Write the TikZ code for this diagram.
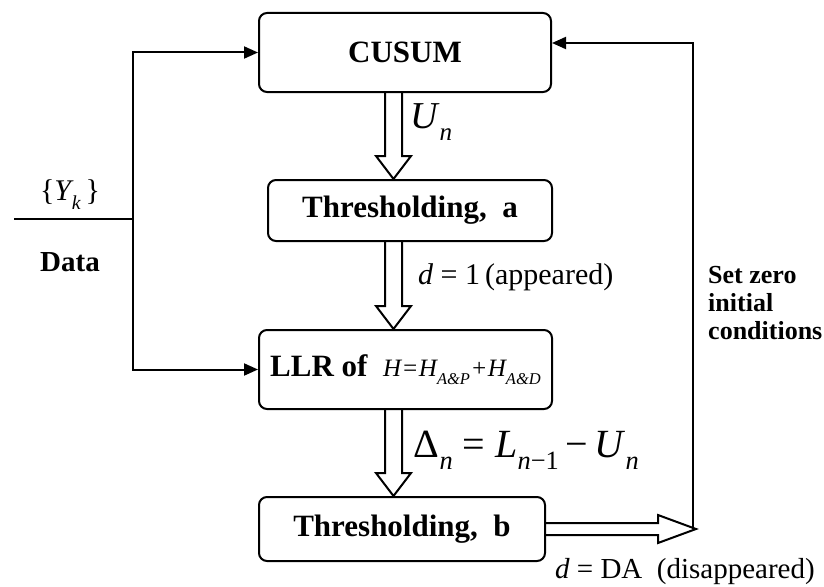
\documentclass[tikz,border=0pt]{standalone}
\usepackage{fontspec}
\setmainfont{Liberation Serif}
\usetikzlibrary{calc,arrows.meta}
\newcommand{\mysub}[1]{\raisebox{-0.3em}{\scalebox{0.66}{#1}}}
\begin{document}
\begin{tikzpicture}[x=1pt,y=-1pt,
  box/.style={draw, line width=2pt, rounded corners=8pt, inner sep=0pt, font=\bfseries\fontsize{31}{36}\selectfont},
  ln/.style={line width=2pt},
  tip/.style={-{Triangle[length=14pt,width=12pt]}, line width=2pt},
  dbl/.style={line width=2pt, line join=miter},
  lbl/.style={inner sep=0pt, anchor=west}
]
\useasboundingbox (0,0) rectangle (824,586);
% boxes
\node[box, minimum width=292pt, minimum height=79pt] (cusum) at (405,52.5) {CUSUM};
\node[box, minimum width=284pt, minimum height=61pt] (thra) at (410,210.5) {Thresholding,\ \ a};
\node[box, minimum width=293pt, minimum height=79pt] (llr) at (405.5,369.5) {LLR of\ \ {\mdseries\itshape\fontsize{25}{28}\selectfont H\kern0.5pt=\kern0.5pt H\mysub{A\&P}\kern0.5pt+\kern0.5pt H\mysub{A\&D}}};
\node[box, minimum width=286pt, minimum height=64pt] (thrb) at (402,529) {Thresholding,\ \ b};
% data input
\coordinate (dstart) at (14,219);
\coordinate (lx) at (133,219);
\draw[ln] (dstart) -- (lx);
\draw[tip] (lx) |- (cusum.west);
\draw[tip] (lx) |- (llr.west);
\node[inner sep=0pt] (yk) at (70,195) {\fontsize{30}{34}\selectfont\{{\itshape Y}\mysub{\kern1pt\itshape k}\,\}};
\node[inner sep=0pt] (data) at (70,262) {\fontsize{29}{34}\selectfont\bfseries Data};
% vertical double arrows
\coordinate (ax) at (393.5,0);
\draw[dbl] ($(ax |- cusum.south)+(-8.5,0)$) -- ($(ax |- thra.north)+(-8.5,-23)$) -- ++(-9,0) -- (ax |- thra.north) -- ($(ax |- thra.north)+(17.5,-23)$) -- ++(-9,0) -- ($(ax |- cusum.south)+(8.5,0)$);
\draw[dbl] ($(ax |- thra.south)+(-8.5,0)$) -- ($(ax |- llr.north)+(-8.5,-23)$) -- ++(-9,0) -- (ax |- llr.north) -- ($(ax |- llr.north)+(17.5,-23)$) -- ++(-9,0) -- ($(ax |- thra.south)+(8.5,0)$);
\draw[dbl] ($(ax |- llr.south)+(-8.5,0)$) -- ($(ax |- thrb.north)+(-8.5,-23)$) -- ++(-9,0) -- (ax |- thrb.north) -- ($(ax |- thrb.north)+(17.5,-23)$) -- ++(-9,0) -- ($(ax |- llr.south)+(8.5,0)$);
% horizontal double arrow and feedback
\coordinate (rx) at (693,529);
\draw[dbl] ($(thrb.east)+(0,-6)$) -- ++(112,0) -- ++(0,-8) -- ($(thrb.east)+(150,0)$) -- ($(thrb.east)+(112,14)$) -- ++(0,-8) -- ($(thrb.east)+(0,6)$);
\draw[tip] (rx) |- ($(cusum.east)+(0,-9.5)$);
% labels
\node[lbl] (un) at (410,122) {\fontsize{38}{40}\selectfont\itshape U\mysub{\kern3pt n}};
\node[lbl] (d1) at (418,277) {\fontsize{30}{34}\selectfont{\itshape d}\ =\ 1\,(appeared)};
\node[lbl] (delta) at (413,450) {\fontsize{40}{44}\selectfont Δ\mysub{\kern1pt\itshape n}\ =\ {\itshape L}\mysub{\itshape n\upshape −1}\,−\,{\itshape U}\mysub{\kern3pt\itshape n}};
\node[lbl] (dda) at (555,572) {\fontsize{29}{34}\selectfont{\itshape d}\ =\ DA\ \ (disappeared)};
\node[lbl, align=left, font=\bfseries\fontsize{26}{28}\selectfont] (setz) at (708,303) {Set zero\\initial\\conditions};
\end{tikzpicture}
\end{document}
